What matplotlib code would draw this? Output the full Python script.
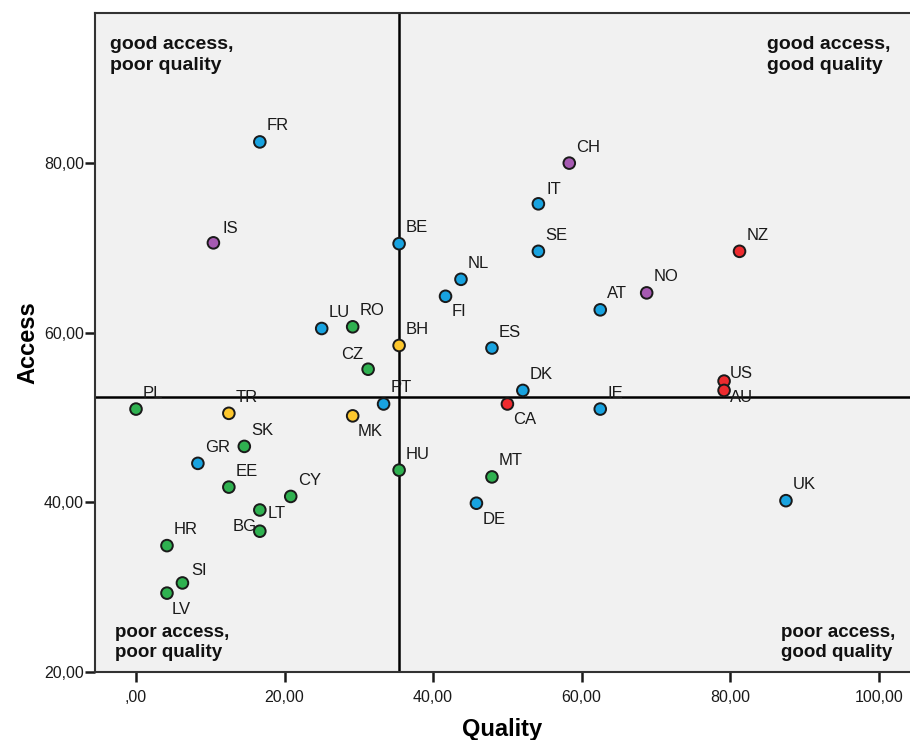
import matplotlib
matplotlib.use("Agg")
import matplotlib.pyplot as plt
from matplotlib.ticker import FuncFormatter

plt.rcParams['font.family'] = ['Liberation Sans', 'DejaVu Sans']

# country codes, quality score, access score, group
countries = ['FR', 'IS', 'BE', 'LU', 'RO', 'BH', 'CZ', 'PT', 'MK', 'TR',
             'PL', 'SK', 'GR', 'EE', 'CY', 'LT', 'BG', 'HR', 'SI', 'LV',
             'HU', 'CH', 'IT', 'SE', 'NL', 'FI', 'ES', 'DK', 'CA', 'IE',
             'MT', 'DE', 'AT', 'NO', 'NZ', 'US', 'AU', 'UK']
quality = [16.67, 10.42, 35.42, 25.00, 29.17, 35.42, 31.25, 33.33, 29.17, 12.50,
           0.00, 14.58, 8.33, 12.50, 20.83, 16.67, 16.67, 4.17, 6.25, 4.17,
           35.42, 58.33, 54.17, 54.17, 43.75, 41.67, 47.92, 52.08, 50.00, 62.50,
           47.92, 45.83, 62.50, 68.75, 81.25, 79.17, 79.17, 87.50]
access = [82.5, 70.6, 70.5, 60.5, 60.7, 58.5, 55.7, 51.6, 50.2, 50.5,
          51.0, 46.6, 44.6, 41.8, 40.7, 39.1, 36.6, 34.9, 30.5, 29.3,
          43.8, 80.0, 75.2, 69.6, 66.3, 64.3, 58.2, 53.2, 51.6, 51.0,
          43.0, 39.9, 62.7, 64.7, 69.6, 54.3, 53.2, 40.2]
group = ['b', 'p', 'b', 'b', 'g', 'y', 'g', 'b', 'y', 'y',
         'g', 'g', 'b', 'g', 'g', 'g', 'g', 'g', 'g', 'g',
         'g', 'p', 'b', 'b', 'b', 'b', 'b', 'b', 'r', 'b',
         'g', 'b', 'b', 'p', 'r', 'r', 'r', 'b']

quality_ref = 35.42
access_ref = 52.4

colors = {'b': '#18a3e0', 'g': '#2fb150', 'p': '#a65ab2',
          'r': '#ee2b2f', 'y': '#fdc72d'}

# label placement (pixels from point; default upper right)
default_off = (7, 16, 'left')
label_off = {
    'FI': (6, -15, 'left'), 'DE': (6, -16, 'left'), 'CA': (6, -16, 'left'),
    'LV': (5, -16, 'left'), 'MK': (5, -16, 'left'), 'AU': (6, -7, 'left'),
    'US': (6, 8, 'left'), 'LT': (8, -3, 'left'), 'BG': (-3, 5, 'right'),
    'CZ': (-5, 15, 'right'), 'SI': (9, 12, 'left'), 'IT': (8, 14, 'left'),
    'IS': (9, 14, 'left'),
}

fig = plt.figure(figsize=(9.1, 7.4), dpi=100)
ax = fig.add_axes([95 / 910, 68 / 740, 815 / 910, 659 / 740])
ax.set_facecolor('#f1f1f1')

ax.axvline(quality_ref, color='black', lw=1.8, zorder=1)
ax.axhline(access_ref, color='black', lw=1.8, zorder=1)

ax.scatter(quality, access, s=70, c=[colors[g] for g in group],
           edgecolors='#1a1a1a', linewidths=1.4, zorder=3)

for name, q, a in zip(countries, quality, access):
    dx, dy, ha = label_off.get(name, default_off)
    ax.annotate(name, (q, a), xytext=(dx, dy), textcoords='offset pixels',
                ha=ha, va='center', fontsize=12, color='#1a1a1a', zorder=4)

qfont = dict(fontweight='bold', color='#111111',
             transform=ax.transAxes, linespacing=1.3)
ax.text(0.018, 0.965, 'good access,\npoor quality', ha='left', va='top',
        fontsize=14, **qfont)
ax.text(0.825, 0.965, 'good access,\ngood quality', ha='left', va='top',
        fontsize=14, **qfont)
ax.text(0.024, 0.016, 'poor access,\npoor quality', ha='left', va='bottom',
        fontsize=13.5, **qfont)
ax.text(0.842, 0.016, 'poor access,\ngood quality', ha='left', va='bottom',
        fontsize=13.5, **qfont)

ax.set_xlim(-5.52, 104.2)
ax.set_ylim(20, 97.7)
ax.set_xticks([0, 20, 40, 60, 80, 100])
ax.set_yticks([20, 40, 60, 80])


def comma_fmt(v, pos):
    s = f"{v:.2f}".replace('.', ',')
    if s.startswith('0,'):
        s = s[1:]
    return s


ax.xaxis.set_major_formatter(FuncFormatter(comma_fmt))
ax.yaxis.set_major_formatter(FuncFormatter(comma_fmt))
ax.tick_params(direction='out', length=7, width=1.8, labelsize=11.5,
               colors='#1a1a1a', pad=1)
ax.tick_params(axis='x', pad=6)

for side in ['left', 'bottom', 'top']:
    ax.spines[side].set_linewidth(1.5)
    ax.spines[side].set_color('#333333')
ax.spines['right'].set_visible(False)

ax.set_xlabel('Quality', fontsize=17, fontweight='bold', labelpad=9)
ax.set_ylabel('Access', fontsize=17, fontweight='bold', labelpad=3)

fig.savefig('out.png', dpi=100, facecolor='white')
